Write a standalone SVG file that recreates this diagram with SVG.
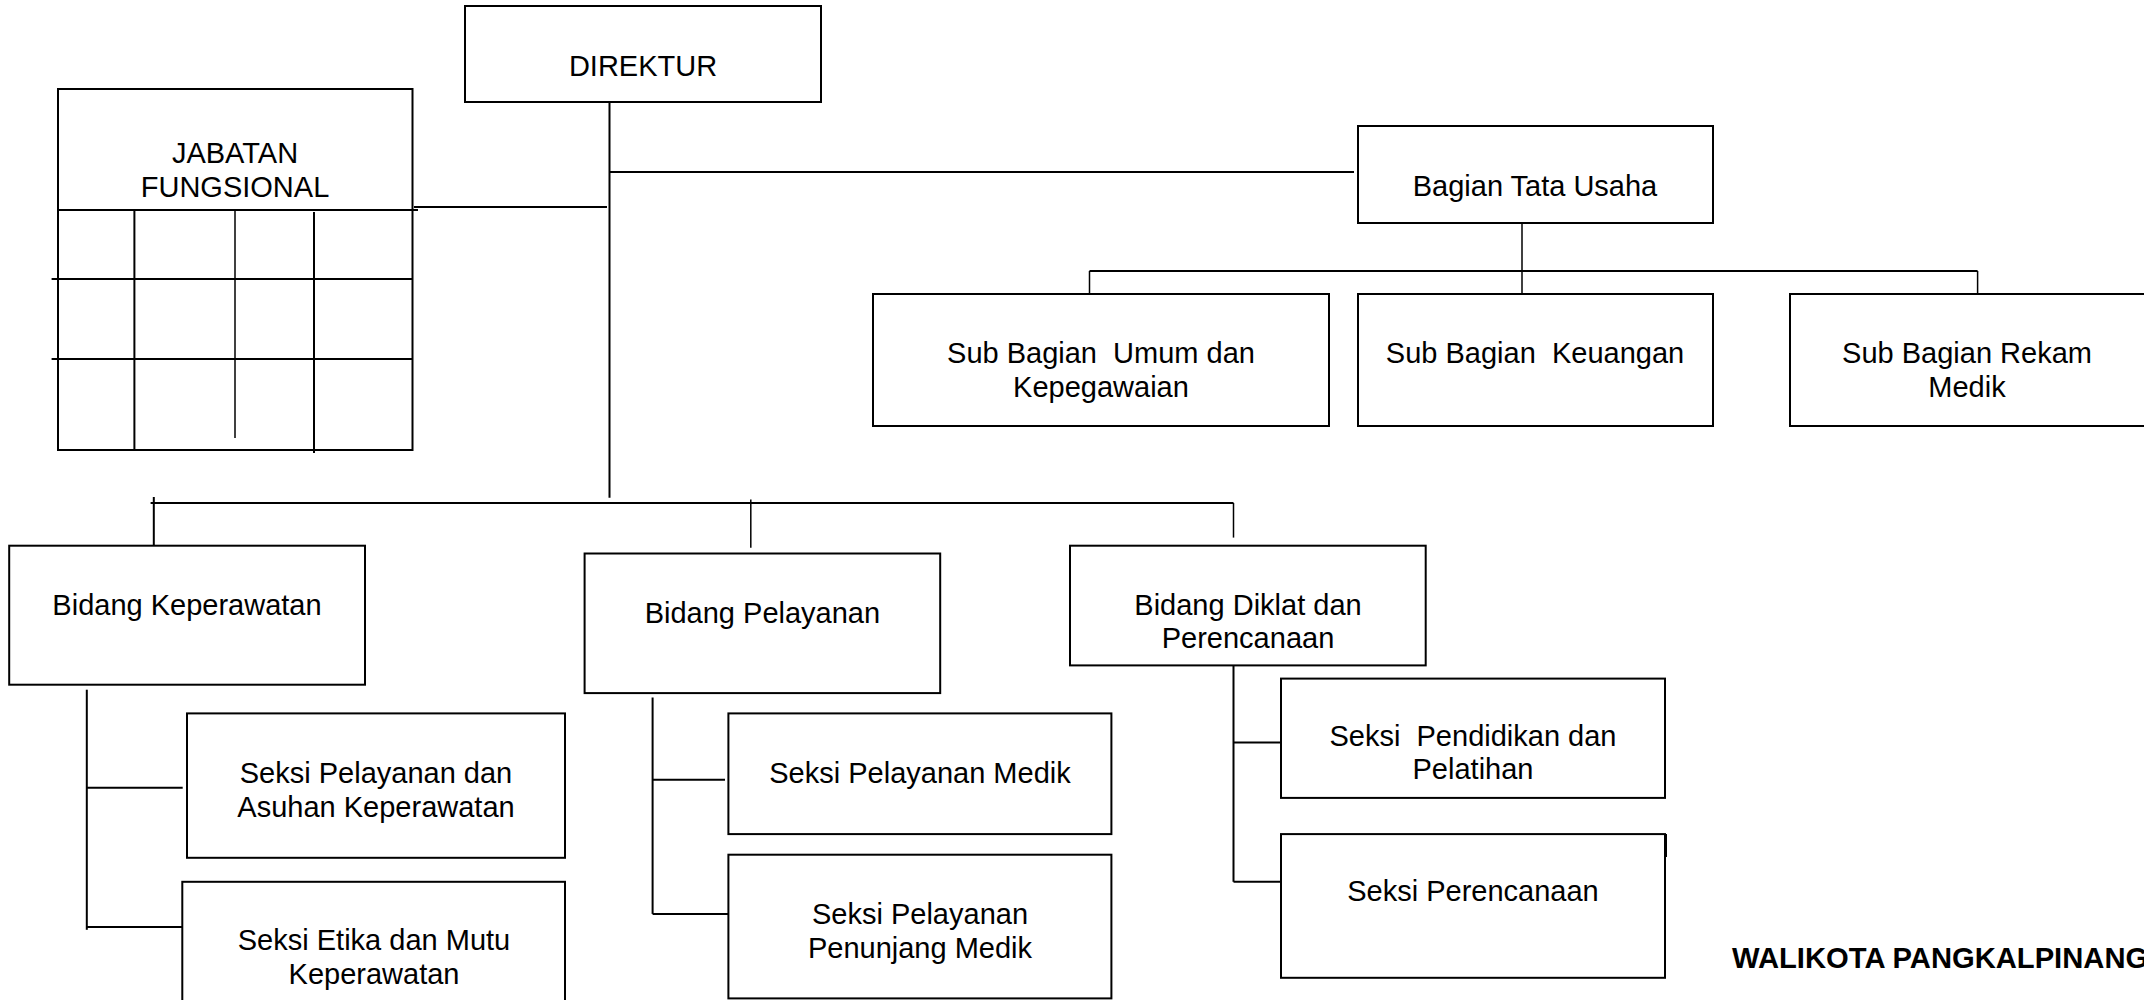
<svg xmlns="http://www.w3.org/2000/svg" width="2144" height="1000" viewBox="0 0 2144 1000">
<style>
.box{fill:#fff;stroke:#000;stroke-width:2}
.ln{stroke:#000;stroke-width:2;fill:none}
.thin{stroke:#000;stroke-width:1.5;fill:none}
.t{font-family:"Liberation Sans",Arial,sans-serif;font-size:29px;text-anchor:middle;fill:#000;white-space:pre}
.b{font-family:"Liberation Sans",Arial,sans-serif;font-size:29.2px;font-weight:bold;fill:#000}
</style>
<rect width="2144" height="1000" fill="#fff"/>
<g id="connectors">
<line class="ln" x1="609.5" y1="102" x2="609.5" y2="497.7"/>
<line class="ln" x1="609.5" y1="172" x2="1354" y2="172"/>
<line class="ln" x1="414" y1="207" x2="607" y2="207"/>
<line class="thin" x1="1522" y1="223" x2="1522" y2="294"/>
<line class="ln" x1="1089.5" y1="271" x2="1977.6" y2="271"/>
<line class="thin" x1="1089.5" y1="271" x2="1089.5" y2="294"/>
<line class="thin" x1="1977.6" y1="271" x2="1977.6" y2="294"/>
<line class="ln" x1="150.6" y1="503" x2="1233.5" y2="503"/>
<line class="ln" x1="153.8" y1="497" x2="153.8" y2="545.7"/>
<line class="thin" x1="750.8" y1="499.4" x2="750.8" y2="547.8"/>
<line class="thin" x1="1233.5" y1="503" x2="1233.5" y2="537.6"/>
<line class="ln" x1="86.8" y1="689.7" x2="86.8" y2="929.8"/>
<line class="ln" x1="86.8" y1="787.8" x2="182.7" y2="787.8"/>
<line class="ln" x1="86.8" y1="927" x2="182.3" y2="927"/>
<line class="ln" x1="652.6" y1="697.5" x2="652.6" y2="913.9"/>
<line class="ln" x1="652.6" y1="779.7" x2="725" y2="779.7"/>
<line class="ln" x1="652.6" y1="913.9" x2="728.4" y2="913.9"/>
<line class="ln" x1="1233.5" y1="665.4" x2="1233.5" y2="881.8"/>
<line class="ln" x1="1233.5" y1="742.5" x2="1281" y2="742.5"/>
<line class="ln" x1="1233.5" y1="881.8" x2="1281" y2="881.8"/>
</g>
<g id="direktur">
<rect class="box" x="465" y="6" width="356" height="96"/>
<text class="t" x="643" y="76">DIREKTUR</text>
</g>
<g id="jabatan-fungsional">
<rect class="box" x="58" y="89" width="354.5" height="361"/>
<text class="t" x="235" y="163">JABATAN</text>
<text class="t" x="235" y="197">FUNGSIONAL</text>
<line class="ln" x1="58" y1="210" x2="418" y2="210"/>
<line class="ln" x1="51.6" y1="279" x2="412.5" y2="279"/>
<line class="ln" x1="51.6" y1="359" x2="412.5" y2="359"/>
<line class="ln" x1="134.4" y1="210" x2="134.4" y2="450"/>
<line class="thin" x1="235" y1="211" x2="235" y2="438"/>
<line class="ln" x1="314" y1="212" x2="314" y2="453"/>
</g>
<g id="bagian-tata-usaha">
<rect class="box" x="1358" y="126" width="355" height="97"/>
<text class="t" x="1535" y="196">Bagian Tata Usaha</text>
</g>
<g id="sub-umum">
<rect class="box" x="873" y="294" width="456" height="132"/>
<text class="t" x="1101" y="363">Sub Bagian  Umum dan</text>
<text class="t" x="1101" y="397">Kepegawaian</text>
</g>
<g id="sub-keuangan">
<rect class="box" x="1358" y="294" width="355" height="132"/>
<text class="t" x="1535" y="363">Sub Bagian  Keuangan</text>
</g>
<g id="sub-rekam-medik">
<rect class="box" x="1790" y="294" width="360" height="132"/>
<text class="t" x="1967" y="363">Sub Bagian Rekam</text>
<text class="t" x="1967" y="397">Medik</text>
</g>
<g id="bidang-keperawatan">
<rect class="box" x="9.2" y="545.7" width="355.8" height="139"/>
<text class="t" x="187" y="615">Bidang Keperawatan</text>
</g>
<g id="bidang-pelayanan">
<rect class="box" x="584.6" y="553.5" width="355.6" height="139.6"/>
<text class="t" x="762.4" y="623">Bidang Pelayanan</text>
</g>
<g id="bidang-diklat">
<rect class="box" x="1070" y="545.7" width="355.7" height="119.7"/>
<text class="t" x="1248" y="615">Bidang Diklat dan</text>
<text class="t" x="1248" y="647.5">Perencanaan</text>
</g>
<g id="seksi-asuhan">
<rect class="box" x="187" y="713.4" width="378" height="144.4"/>
<text class="t" x="376" y="783">Seksi Pelayanan dan</text>
<text class="t" x="376" y="816.5">Asuhan Keperawatan</text>
</g>
<g id="seksi-etika">
<rect class="box" x="182.3" y="881.8" width="382.7" height="135"/>
<text class="t" x="374" y="950">Seksi Etika dan Mutu</text>
<text class="t" x="374" y="984">Keperawatan</text>
</g>
<g id="seksi-pelayanan-medik">
<rect class="box" x="728.4" y="713.4" width="383" height="120.7"/>
<text class="t" x="920" y="783">Seksi Pelayanan Medik</text>
</g>
<g id="seksi-penunjang-medik">
<rect class="box" x="728.4" y="854.7" width="383" height="143.7"/>
<text class="t" x="920" y="924">Seksi Pelayanan</text>
<text class="t" x="920" y="958">Penunjang Medik</text>
</g>
<g id="seksi-pendidikan">
<rect class="box" x="1281" y="678.6" width="384" height="119.3"/>
<text class="t" x="1473" y="745.5">Seksi  Pendidikan dan</text>
<text class="t" x="1473" y="779.3">Pelatihan</text>
</g>
<g id="seksi-perencanaan">
<rect class="box" x="1281" y="834.1" width="384" height="143.7"/>
<line class="ln" x1="1666" y1="834.1" x2="1666" y2="857"/>
<text class="t" x="1473" y="901">Seksi Perencanaan</text>
</g>
<g id="walikota">
<text class="b" x="1732" y="968">WALIKOTA PANGKALPINANG</text>
</g>
</svg>
